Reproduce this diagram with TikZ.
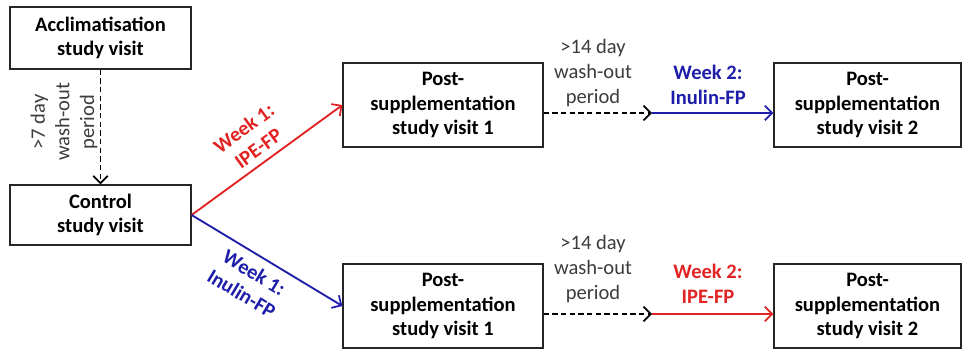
\documentclass[tikz,border=0pt]{standalone}
\usepackage{fontspec}
\setmainfont{Carlito}
\usetikzlibrary{arrows.meta,calc}
\definecolor{myred}{RGB}{225,35,35}
\definecolor{myblue}{RGB}{30,30,170}
\definecolor{mygrey}{RGB}{60,60,60}
\tikzset{
  box/.style={draw=black!85, line width=0.9pt, align=center, inner sep=0pt,
    font=\fontsize{15.4pt}{18.4pt}\selectfont\bfseries},
  note/.style={align=center, text=mygrey, inner sep=0pt,
    font=\fontsize{15.4pt}{18.4pt}\selectfont},
  wk/.style={align=center, inner sep=0pt,
    font=\fontsize{15.4pt}{18.4pt}\selectfont\bfseries},
  arr/.style={line width=1.4pt, -{Straight Barb[length=5.5pt,width=11pt,line width=1.3pt]}},
  dasharr/.style={arr, dash pattern=on 4pt off 2.5pt}
}
\begin{document}
\begin{tikzpicture}[x=0.75pt,y=-0.75pt]
\useasboundingbox (0,0) rectangle (963,350);
\node[box, minimum width=135.75pt, minimum height=46.5pt] (acc) at (100.5,38) {Acclimatisation\\study visit};
\node[box, minimum width=135.75pt, minimum height=45pt] (ctl) at (100.5,215) {Control\\study visit};
\node[box, minimum width=150pt, minimum height=63pt] (v1a) at (443,105) {Post-\\supplementation\\study visit 1};
\node[box, minimum width=150pt, minimum height=63pt] (v1b) at (443,306) {Post-\\supplementation\\study visit 1};
\node[box, minimum width=140.25pt, minimum height=63pt] (v2a) at (867.5,105) {Post-\\supplementation\\study visit 2};
\node[box, minimum width=140.25pt, minimum height=63pt] (v2b) at (867.5,306) {Post-\\supplementation\\study visit 2};

\draw[dasharr] (acc.south) -- (ctl.north);
\node[note, rotate=90] (w0) at (64,122) {>7 day\\wash-out\\period};

\draw[arr, myred] (ctl.east) -- (v1a.west);
\draw[arr, myblue] (ctl.east) -- (v1b.west);
\node[wk, text=myred, rotate=36] (l1) at (251,138) {Week 1:\\IPE-FP};
\node[wk, text=myblue, rotate=-31] (l2) at (248,283) {Week 1:\\Inulin-FP};

\coordinate (m1) at (652,113);
\coordinate (m2) at (652,314);
\draw[dasharr] (v1a.east |- m1) -- (m1);
\draw[arr, myblue] (m1) -- (v2a.west |- m1);
\draw[dasharr] (v1b.east |- m2) -- (m2);
\draw[arr, myred] (m2) -- (v2b.west |- m2);

\node[note] (w1) at (593,73) {>14 day\\wash-out\\period};
\node[note] (w2) at (593,269) {>14 day\\wash-out\\period};
\node[wk, text=myblue] (l3) at (708,85) {Week 2:\\Inulin-FP};
\node[wk, text=myred] (l4) at (708,284) {Week 2:\\IPE-FP};
\end{tikzpicture}
\end{document}
